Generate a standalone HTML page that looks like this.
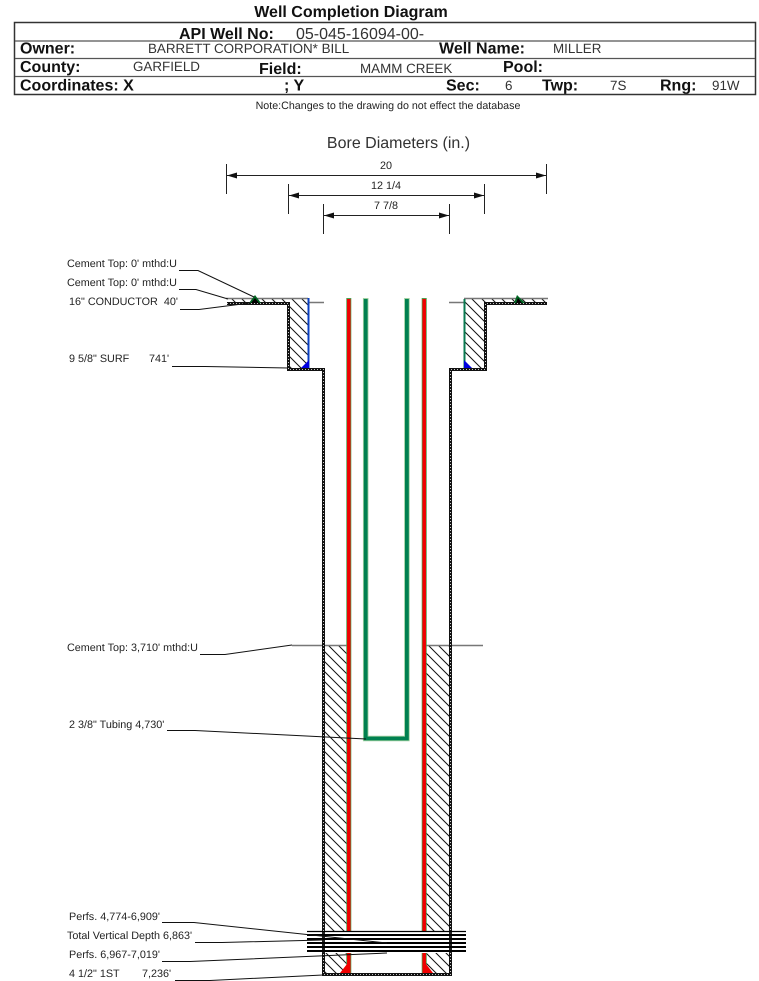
<!DOCTYPE html>
<html><head><meta charset="utf-8"><title>Well Completion Diagram</title>
<style>
html,body{margin:0;padding:0;background:#fff}
svg{display:block}
text{font-family:"Liberation Sans",Arial,sans-serif;fill:#222;text-rendering:geometricPrecision;white-space:pre}
.b{font-weight:bold;font-size:16px;fill:#111}
.v{font-size:13.4px;fill:#333}
.l{font-size:10.8px;fill:#222}
</style></head><body>
<svg width="759" height="981" viewBox="0 0 759 981" xmlns="http://www.w3.org/2000/svg">
<defs>
<pattern id="h" width="10" height="10" patternUnits="userSpaceOnUse" patternTransform="translate(3 0)">
<path d="M-1 -1L11 11M-6 4L6 16M4 -6L16 6" stroke="#111" stroke-width="1" fill="none"/>
</pattern>
<marker id="a" markerWidth="11" markerHeight="6" refX="10" refY="3" orient="auto-start-reverse" markerUnits="userSpaceOnUse"><path d="M0 0L10 3L0 6Z" fill="#111"/></marker>
</defs>
<text x="351" y="17" text-anchor="middle" class="b">Well Completion Diagram</text>
<rect x="14.5" y="22.500" width="741" height="72" fill="none" stroke="#333" stroke-width="1.5"/>
<g stroke="#555" stroke-width="1.3"><path d="M15 41H755M15 58.500H755M15 76.500H755"/></g>
<text x="179" y="39" class="b">API Well No:</text>
<text x="296" y="39" font-size="16" style="fill:#333">05-045-16094-00-</text>
<text x="20" y="53.500" class="b">Owner:</text>
<text x="148" y="53" class="v">BARRETT CORPORATION* BILL</text>
<text x="439" y="53.500" class="b">Well Name:</text>
<text x="553" y="53" class="v">MILLER</text>
<text x="20" y="72" class="b">County:</text>
<text x="133" y="71" class="v">GARFIELD</text>
<text x="259" y="74" class="b">Field:</text>
<text x="360" y="73" class="v">MAMM CREEK</text>
<text x="503" y="72" class="b">Pool:</text>
<text x="20" y="90.500" class="b">Coordinates: X</text>
<text x="284" y="90.500" class="b">; Y</text>
<text x="446" y="90.500" class="b">Sec:</text>
<text x="505" y="90" class="v">6</text>
<text x="542" y="90.500" class="b">Twp:</text>
<text x="610" y="90" class="v">7S</text>
<text x="660" y="90.500" class="b">Rng:</text>
<text x="712" y="90" class="v">91W</text>
<text x="388" y="109" text-anchor="middle" font-size="10.7">Note:Changes to the drawing do not effect the database</text>
<text x="398.500" y="148" text-anchor="middle" font-size="16" style="fill:#333">Bore Diameters (in.)</text>
<text x="386" y="169" text-anchor="middle" class="l">20</text>
<text x="386" y="189" text-anchor="middle" class="l">12 1/4</text>
<text x="386" y="209" text-anchor="middle" class="l">7 7/8</text>
<g stroke="#222" stroke-width="1" fill="none">
<path d="M226.500 164V194M546.500 164V194M288.500 184V214M484.500 184V214M323.500 204V234M449.500 204V234"/>
<path d="M227 175.500H546" marker-start="url(#a)" marker-end="url(#a)"/>
<path d="M289 195.500H484" marker-start="url(#a)" marker-end="url(#a)"/>
<path d="M324 215.500H449" marker-start="url(#a)" marker-end="url(#a)"/>
</g>
<!-- hatch -->
<g fill="url(#h)">
<rect x="228" y="299" width="80" height="4"/>
<rect x="289" y="303" width="19" height="65"/>
<rect x="464" y="299" width="83" height="4"/>
<rect x="464" y="303" width="21" height="65"/>
<rect x="323" y="645" width="24" height="286"/>
<rect x="426" y="645" width="24" height="286"/>
<rect x="323" y="953" width="24" height="21"/>
<rect x="426" y="953" width="24" height="21"/>
</g>
<!-- top lines -->
<g stroke="#777" stroke-width="1.500" fill="none">
<path d="M226 298.500H308M308 302.500H324M464 298.500H548M449 302.500H464M292 645.500H347M426 645.500H483"/>
</g>
<!-- casings -->
<g fill="none" stroke="#111" stroke-width="3">
<path d="M227 303.500H288.500V369.500H323.500V974.500H450.500V369.500H485.500V303.500H547"/>
</g>
<g fill="none" stroke="#fff" stroke-width="0.8" stroke-dasharray="1 2">
<path d="M227 303.500H288.500V369.500H323.500V974.500H450.500V369.500H485.500V303.500H547"/>
</g>
<!-- cement lines -->
<path d="M308.500 298V368" stroke="#0a3fc0" stroke-width="2" fill="none"/>
<path d="M464.500 299V368" stroke="#0a7a50" stroke-width="2" fill="none"/>
<path d="M301 368L309 360V368Z" fill="#0000e0"/>
<path d="M464 360L472 368H464Z" fill="#0000e0"/>
<path d="M249 303L255 295L261 303Z" fill="#062"/><path d="M251 303L255 298L259 303Z" fill="#000"/>
<path d="M514 303L517 295L525 303Z" fill="#062"/><path d="M516 303L518 298L522 303Z" fill="#000"/>
<!-- strings -->
<g fill="none">
<path d="M348.800 298V931M348.800 953V973M424.200 298V931M424.200 953V973" stroke="#4ea04e" stroke-width="5"/>
<path d="M348.800 299V931M348.800 953V973M424.200 299V931M424.200 953V973" stroke="#f00000" stroke-width="3.500"/>
<path d="M365.700 298V738.500H406.900V298" stroke="#9fd09f" stroke-width="5.500"/>
<path d="M365.700 299V738.500H406.900V299" stroke="#008050" stroke-width="3.800"/>
</g>
<path d="M340 973L347 964H350V973Z" fill="#f00000"/>
<path d="M423 964H426L433 973H423Z" fill="#f00000"/>
<!-- perfs -->
<rect x="308" y="931" width="158" height="22" fill="#fff"/>
<path d="M323.500 931V953M450.500 931V953" stroke="#222" stroke-width="3"/>
<g stroke="#000" fill="none">
<path d="M307 931.500H466" stroke-width="1.300"/>
<path d="M307 935H466M307 939H466M307 943H466M307 947H466M307 951H466" stroke-width="2"/>
</g>
<!-- leaders -->
<g stroke="#111" stroke-width="1" fill="none">
<path d="M179 270.500H198L254 297"/>
<path d="M179 289.500H196L228 299"/>
<path d="M180 309.500H199L250 303"/>
<path d="M172 366.500H205L288 368"/>
<path d="M200 654.500H225L292 645"/>
<path d="M167 730.500H195L366 739"/>
<path d="M162 922.500H194L387 943"/>
<path d="M195 942.500H222L323 940"/>
<path d="M162 961.500H190L387 953"/>
<path d="M175 980.500H210L323 975"/>
</g>
<!-- labels -->
<text x="67" y="267" class="l">Cement Top: 0' mthd:U</text>
<text x="67" y="286" class="l">Cement Top: 0' mthd:U</text>
<text x="69" y="305" class="l" xml:space="preserve">16" CONDUCTOR  40'</text>
<text x="69" y="362" class="l">9 5/8" SURF</text>
<text x="149" y="362" class="l">741'</text>
<text x="67" y="651" class="l">Cement Top: 3,710' mthd:U</text>
<text x="69" y="728" class="l">2 3/8" Tubing 4,730'</text>
<text x="69" y="920" class="l">Perfs. 4,774-6,909'</text>
<text x="67" y="939" class="l">Total Vertical Depth 6,863'</text>
<text x="69" y="958" class="l">Perfs. 6,967-7,019'</text>
<text x="69" y="977" class="l">4 1/2" 1ST</text>
<text x="142" y="977" class="l">7,236'</text>
</svg>
</body></html>
